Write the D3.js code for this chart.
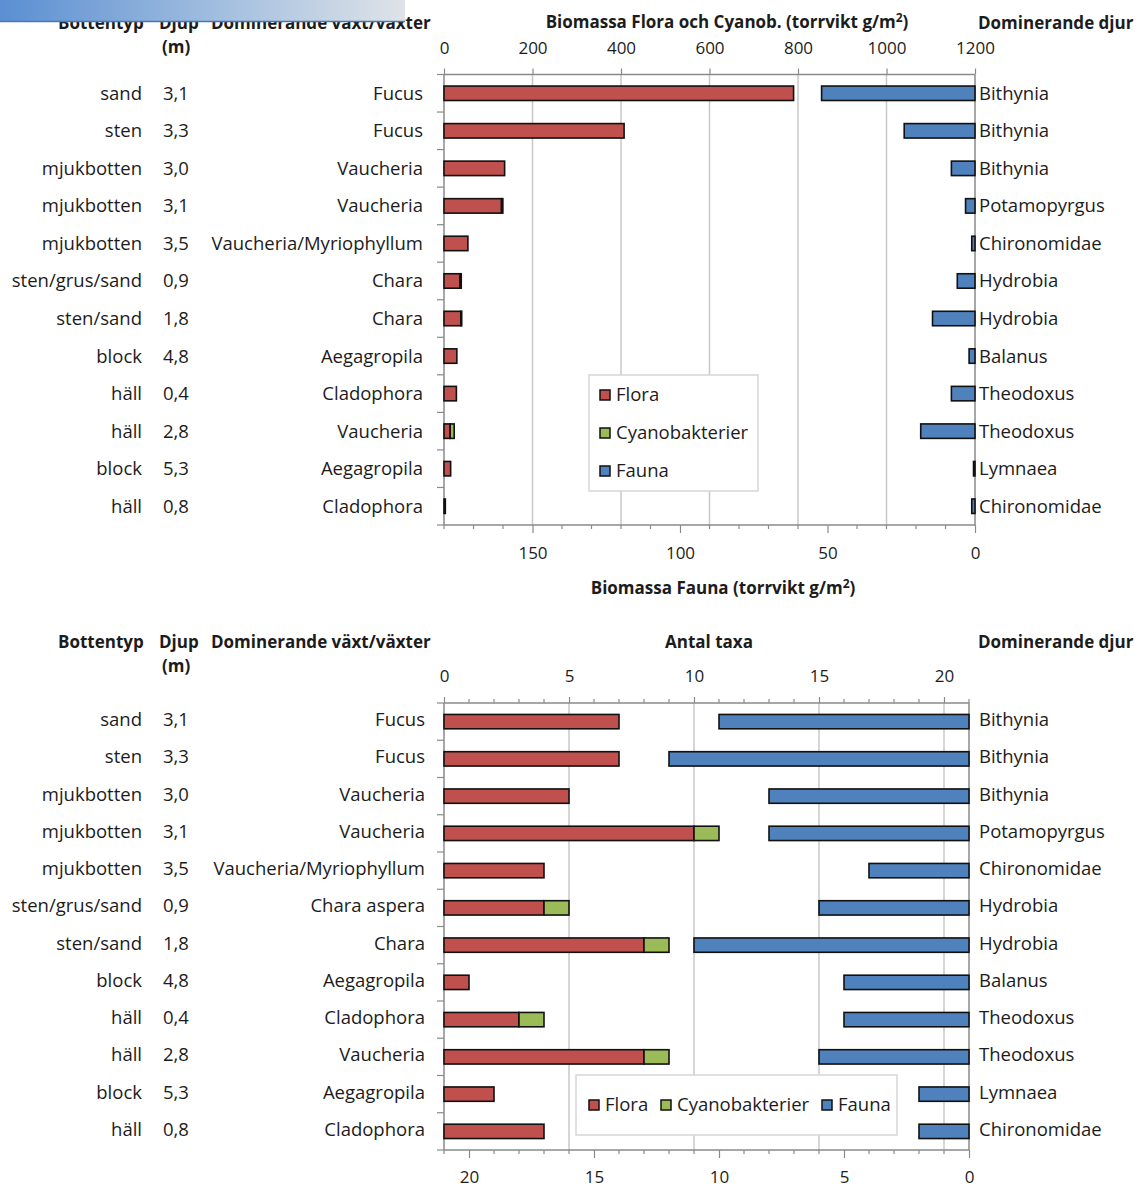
<!DOCTYPE html>
<html>
<head>
<meta charset="utf-8">
<script src="https://cdn.jsdelivr.net/npm/d3@7"></script>
<style>
  html, body { margin: 0; padding: 0; background: #ffffff; }
  svg text { font-family: "Open Sans", "DejaVu Sans", sans-serif; fill: #1c1c1c; }
  .hdr { font-weight: 700; font-size: 17px; }
  .lbl { font-size: 18.5px; }
  .tick text { font-size: 17px; }
</style>
</head>
<body>
<svg id="chart" width="1148" height="1187"></svg>
<script>
// Sampling stations: bottom type, depth and dominant plants / animals
const bottentyp = ["sand", "sten", "mjukbotten", "mjukbotten", "mjukbotten", "sten/grus/sand",
                   "sten/sand", "block", "häll", "häll", "block", "häll"];
const djup = ["3,1", "3,3", "3,0", "3,1", "3,5", "0,9", "1,8", "4,8", "0,4", "2,8", "5,3", "0,8"];
const vaxtBiomassa = ["Fucus", "Fucus", "Vaucheria", "Vaucheria", "Vaucheria/Myriophyllum", "Chara",
                      "Chara", "Aegagropila", "Cladophora", "Vaucheria", "Aegagropila", "Cladophora"];
const vaxtTaxa = ["Fucus", "Fucus", "Vaucheria", "Vaucheria", "Vaucheria/Myriophyllum", "Chara aspera",
                  "Chara", "Aegagropila", "Cladophora", "Vaucheria", "Aegagropila", "Cladophora"];
const djur = ["Bithynia", "Bithynia", "Bithynia", "Potamopyrgus", "Chironomidae", "Hydrobia",
              "Hydrobia", "Balanus", "Theodoxus", "Theodoxus", "Lymnaea", "Chironomidae"];

// Biomass (dry weight g/m2)
const floraBiomassa = [790, 407, 137, 130, 54, 36, 38, 29, 28, 14, 15, 3];
const cyanoBiomassa = [0, 0, 0, 3, 0, 3, 2, 0, 0, 9, 0, 0];
const faunaBiomassa = [52, 24, 8, 3.2, 1.1, 6, 14.4, 2, 8, 18.4, 0.5, 1.1];

// Number of taxa
const floraTaxa = [7, 7, 5, 10, 4, 4, 8, 1, 3, 8, 2, 4];
const cyanoTaxa = [0, 0, 0, 1, 0, 1, 1, 0, 1, 1, 0, 0];
const faunaTaxa = [10, 12, 8, 8, 4, 6, 11, 5, 5, 6, 2, 2];

// Axis tick values
const floraBiomassaTicks = [0, 200, 400, 600, 800, 1000, 1200];
const faunaBiomassaTicks = [0, 50, 100, 150];
const taxaTicks = [0, 5, 10, 15, 20];

const seriesNames = ["Flora", "Cyanobakterier", "Fauna"];
const colors = { Flora: "#c0504d", Cyanobakterier: "#9bbb59", Fauna: "#4f81bd" };

const svg = d3.select("#chart");
const AXIS = "#8a8a8a", GRID = "#c8c8c8";

function drawPanel(cfg) {
  const g = svg.append("g");
  const rows = d3.range(bottentyp.length);
  const y = d3.scaleBand().domain(rows).range([cfg.top, cfg.bottom])
    .paddingInner(0.615).paddingOuter(0.3075);
  const xL = d3.scaleLinear().domain([0, cfg.floraMax]).range([cfg.left, cfg.right]);
  const xR = d3.scaleLinear().domain([0, cfg.faunaMax]).range([cfg.right, cfg.left]);

  // vertical gridlines from the flora axis
  g.append("g").selectAll("line")
    .data(cfg.floraTicks.filter(v => v > 0 && xL(v) < cfg.right - 1))
    .join("line")
    .attr("x1", d => xL(d)).attr("x2", d => xL(d))
    .attr("y1", cfg.top).attr("y2", cfg.bottom)
    .attr("stroke", GRID).attr("stroke-width", 1.5);

  // top axis (flora)
  const top = g.append("g").attr("transform", `translate(0,${cfg.top})`)
    .call(d3.axisTop(xL).tickValues(cfg.floraTicks).tickSize(6).tickSizeOuter(0)
      .tickPadding(cfg.topPad).tickFormat(d3.format("d")));
  if (cfg.floraMinor) {
    g.append("g").selectAll("line").data(cfg.floraMinor).join("line")
      .attr("x1", d => xL(d)).attr("x2", d => xL(d))
      .attr("y1", cfg.top - 4).attr("y2", cfg.top)
      .attr("stroke", AXIS).attr("stroke-width", 1.2);
  }

  // bottom axis (fauna)
  const bot = g.append("g").attr("transform", `translate(0,${cfg.bottom})`)
    .call(d3.axisBottom(xR).tickValues(cfg.faunaTicks).tickSize(8).tickSizeOuter(0)
      .tickPadding(cfg.botPad).tickFormat(d3.format("d")));
  g.append("g").selectAll("line").data(cfg.faunaMinor).join("line")
    .attr("x1", d => xR(d)).attr("x2", d => xR(d))
    .attr("y1", cfg.bottom).attr("y2", cfg.bottom + 4)
    .attr("stroke", AXIS).attr("stroke-width", 1.2);

  [top, bot].forEach(a => {
    a.select(".domain").attr("stroke", AXIS).attr("stroke-width", 1.5);
    a.selectAll(".tick line").attr("stroke", AXIS).attr("stroke-width", 1.2);
    a.selectAll(".tick text").attr("fill", "#1c1c1c");
  });
  top.select(".domain").attr("d", `M${cfg.left},0H${cfg.right}`);
  bot.select(".domain").attr("d", `M${cfg.left},0H${cfg.right}`);

  // left and right vertical axis lines, left ticks at category boundaries
  g.append("line").attr("x1", cfg.left).attr("x2", cfg.left)
    .attr("y1", cfg.top).attr("y2", cfg.bottom).attr("stroke", AXIS).attr("stroke-width", 1.5);
  g.append("line").attr("x1", cfg.right).attr("x2", cfg.right)
    .attr("y1", cfg.top).attr("y2", cfg.bottom).attr("stroke", AXIS).attr("stroke-width", 1.5);
  const step = y.step();
  g.append("g").selectAll("line").data(d3.range(rows.length + 1)).join("line")
    .attr("x1", cfg.left - 7).attr("x2", cfg.left)
    .attr("y1", i => cfg.top + i * step).attr("y2", i => cfg.top + i * step)
    .attr("stroke", AXIS).attr("stroke-width", 1.2);

  // stacked flora + cyano bars from the left
  const bars = g.append("g").attr("stroke", "#111").attr("stroke-width", 1.6);
  bars.selectAll("rect.flora").data(rows).join("rect").attr("class", "flora")
    .attr("x", xL(0)).attr("y", i => y(i))
    .attr("width", i => xL(cfg.flora[i]) - xL(0)).attr("height", y.bandwidth())
    .attr("fill", colors.Flora);
  bars.selectAll("rect.cyano").data(rows.filter(i => cfg.cyano[i] > 0)).join("rect").attr("class", "cyano")
    .attr("x", i => xL(cfg.flora[i])).attr("y", i => y(i))
    .attr("width", i => xL(cfg.flora[i] + cfg.cyano[i]) - xL(cfg.flora[i])).attr("height", y.bandwidth())
    .attr("fill", colors.Cyanobakterier);
  // fauna bars from the right
  bars.selectAll("rect.fauna").data(rows).join("rect").attr("class", "fauna")
    .attr("x", i => xR(cfg.fauna[i])).attr("y", i => y(i))
    .attr("width", i => xR(0) - xR(cfg.fauna[i])).attr("height", y.bandwidth())
    .attr("fill", colors.Fauna);

  // row labels
  const cy = i => y(i) + y.bandwidth() / 2 + cfg.textShift;
  const lab = g.append("g").attr("class", "lbl");
  lab.selectAll("text.bt").data(rows).join("text").attr("class", "bt")
    .attr("x", 142).attr("y", cy).attr("dy", "0.35em").attr("text-anchor", "end").text(i => bottentyp[i]);
  lab.selectAll("text.dj").data(rows).join("text").attr("class", "dj")
    .attr("x", 163).attr("y", cy).attr("dy", "0.35em").text(i => djup[i]);
  lab.selectAll("text.vx").data(rows).join("text").attr("class", "vx")
    .attr("x", cfg.vaxtRight).attr("y", cy).attr("dy", "0.35em").attr("text-anchor", "end").text(i => cfg.vaxt[i]);
  lab.selectAll("text.du").data(rows).join("text").attr("class", "du")
    .attr("x", 979).attr("y", cy).attr("dy", "0.35em").text(i => djur[i]);

  // headers
  const h = g.append("g").attr("class", "hdr");
  h.append("text").attr("x", 58).attr("y", cfg.hdrY).text("Bottentyp");
  h.append("text").attr("x", 159).attr("y", cfg.hdrY).text("Djup");
  h.append("text").attr("x", 162).attr("y", cfg.hdrY + 24).text("(m)");
  h.append("text").attr("x", 211).attr("y", cfg.hdrY).text("Dominerande växt/växter");
  h.append("text").attr("x", 978).attr("y", cfg.hdrY).text("Dominerande djur");
  return { g, xL, xR, y };
}

function legend(g, items) {
  items.forEach(it => {
    g.append("rect").attr("x", it.x).attr("y", it.y - 5).attr("width", 10).attr("height", 10)
      .attr("fill", colors[it.name]).attr("stroke", "#111").attr("stroke-width", 1.5);
    g.append("text").attr("class", "lbl").attr("x", it.x + 16).attr("y", it.y)
      .attr("dy", "0.35em").text(it.name);
  });
}

// ---- Panel 1: biomass ----
const p1 = drawPanel({
  top: 74.5, bottom: 525, left: 444, right: 975,
  floraMax: 1200, faunaMax: 180,
  floraTicks: floraBiomassaTicks, floraMinor: null,
  faunaTicks: faunaBiomassaTicks, faunaMinor: d3.range(10, 181, 10).filter(v => v % 50 !== 0),
  topPad: 15, botPad: 14,
  flora: floraBiomassa, cyano: cyanoBiomassa, fauna: faunaBiomassa,
  vaxt: vaxtBiomassa, vaxtRight: 423, hdrY: 29, textShift: 0
});
const t1 = p1.g.append("text").attr("class", "hdr").attr("x", 727).attr("y", 28).attr("text-anchor", "middle");
t1.append("tspan").text("Biomassa Flora och Cyanob. (torrvikt g/m");
t1.append("tspan").attr("dy", -6).attr("font-size", 12).text("2");
t1.append("tspan").attr("dy", 6).text(")");
const t2 = p1.g.append("text").attr("class", "hdr").attr("x", 723).attr("y", 594).attr("text-anchor", "middle");
t2.append("tspan").text("Biomassa Fauna (torrvikt g/m");
t2.append("tspan").attr("dy", -6).attr("font-size", 12).text("2");
t2.append("tspan").attr("dy", 6).text(")");

const lg1 = p1.g.append("g");
lg1.append("rect").attr("x", 589).attr("y", 375).attr("width", 169).attr("height", 116)
  .attr("fill", "#fff").attr("stroke", "#d6d6d6").attr("stroke-width", 1.5);
legend(lg1, seriesNames.map((n, i) => ({ name: n, x: 600, y: 395 + i * 38 })));

// ---- Panel 2: number of taxa ----
const p2 = drawPanel({
  top: 703, bottom: 1150, left: 444, right: 969,
  floraMax: 21, faunaMax: 21,
  floraTicks: taxaTicks, floraMinor: d3.range(1, 22).filter(v => v % 5 !== 0),
  faunaTicks: taxaTicks, faunaMinor: d3.range(1, 22).filter(v => v % 5 !== 0),
  topPad: 15, botPad: 13,
  flora: floraTaxa, cyano: cyanoTaxa, fauna: faunaTaxa,
  vaxt: vaxtTaxa, vaxtRight: 425, hdrY: 648, textShift: -2
});
p2.g.append("text").attr("class", "hdr").attr("x", 709).attr("y", 648).attr("text-anchor", "middle").text("Antal taxa");

const lg2 = p2.g.append("g");
lg2.append("rect").attr("x", 576).attr("y", 1075).attr("width", 321).attr("height", 60)
  .attr("fill", "#fff").attr("stroke", "#d6d6d6").attr("stroke-width", 1.5);
legend(lg2, [
  { name: "Flora", x: 589, y: 1105 },
  { name: "Cyanobakterier", x: 661, y: 1105 },
  { name: "Fauna", x: 822, y: 1105 }
]);

// ---- page banner overlapping the top-left corner ----
const defs = svg.append("defs");
const grad = defs.append("linearGradient").attr("id", "bannerGrad");
grad.append("stop").attr("offset", "0%").attr("stop-color", "#5a8fd2");
grad.append("stop").attr("offset", "55%").attr("stop-color", "#a3bfdf");
grad.append("stop").attr("offset", "100%").attr("stop-color", "#dfe3e8");
svg.append("rect").attr("x", 0).attr("y", 0).attr("width", 405).attr("height", 22)
  .attr("fill", "url(#bannerGrad)");
svg.append("line").attr("x1", 0).attr("x2", 405).attr("y1", 21.5).attr("y2", 21.5)
  .attr("stroke", "#4a77b4").attr("stroke-width", 1.5);
</script>
</body>
</html>
